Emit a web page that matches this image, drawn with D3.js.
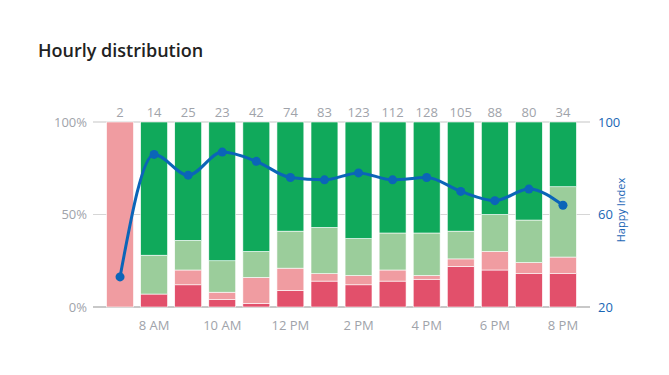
<!DOCTYPE html>
<html>
<head>
<meta charset="utf-8">
<script src="https://cdn.jsdelivr.net/npm/d3@7"></script>
<style>
  body { margin: 0; background: #fff; font-family: "Open Sans", sans-serif; }
  .tick text { font-family: "Open Sans", sans-serif; }
</style>
</head>
<body>
<svg></svg>
<script>
  // hours of the day, one bar each
  var hours = ["7 AM", "8 AM", "9 AM", "10 AM", "11 AM", "12 PM", "1 PM",
               "2 PM", "3 PM", "4 PM", "5 PM", "6 PM", "7 PM", "8 PM"];
  var tickLabels = ["8 AM", "10 AM", "12 PM", "2 PM", "4 PM", "6 PM", "8 PM"];
  var counts = [2, 14, 25, 23, 42, 74, 83, 123, 112, 128, 105, 88, 80, 34];

  // share of answers per hour (%), bottom to top
  var veryUnhappy = [0, 7, 12, 4, 2, 9, 14, 12, 14, 15, 22, 20, 18, 18];
  var unhappy     = [100, 0, 8, 4, 14, 12, 4, 5, 6, 2, 4, 10, 6, 9];
  var happy       = [0, 21, 16, 17, 14, 20, 25, 20, 20, 23, 15, 20, 23, 38];
  var veryHappy   = [0, 72, 64, 75, 70, 59, 57, 63, 60, 60, 59, 50, 53, 35];

  var happyIndex = [33, 86, 77, 87, 83, 76, 75, 78, 75, 76, 70, 66, 71, 64];

  var leftTicks = [0, 50, 100];
  var rightTicks = [20, 60, 100];

  var width = 669, height = 375;
  var plot = { left: 93, right: 590, top: 122, bottom: 307 };
  var grey = "#a0a3aa";

  var svg = d3.select("svg")
    .attr("width", width)
    .attr("height", height);

  svg.append("text")
    .attr("x", 38)
    .attr("y", 57)
    .attr("fill", "#222")
    .attr("font-size", 18)
    .attr("font-weight", 600)
    .text("Hourly distribution");

  var x = d3.scaleBand()
    .domain(hours)
    .range([103, 580])
    .paddingInner(0.21)
    .paddingOuter(0.105);

  var yPct = d3.scaleLinear().domain([0, 100]).range([plot.bottom, plot.top]);
  var yIdx = d3.scaleLinear().domain([20, 100]).range([plot.bottom, plot.top]);

  // grid lines
  svg.append("g")
    .selectAll("line")
    .data(leftTicks)
    .enter()
    .append("line")
    .attr("x1", plot.left)
    .attr("x2", plot.right)
    .attr("y1", d => yPct(d))
    .attr("y2", d => yPct(d))
    .attr("stroke", d => d == 0 ? "#c8c8c8" : (d == 100 ? "#e2e2e2" : "#d6d6d6"))
    .attr("stroke-width", d => d == 50 ? 1 : 2);

  // stacked bars
  var keys = ["veryUnhappy", "unhappy", "happy", "veryHappy"];
  var colors = {
    veryUnhappy: "#e2506b",
    unhappy: "#f09ca1",
    happy: "#9bcd9b",
    veryHappy: "#10a95b"
  };
  var rows = hours.map((h, i) => ({
    hour: h,
    veryUnhappy: veryUnhappy[i],
    unhappy: unhappy[i],
    happy: happy[i],
    veryHappy: veryHappy[i]
  }));
  var stack = d3.stack().keys(keys)(rows);

  svg.append("g")
    .selectAll("g")
    .data(stack)
    .enter()
    .append("g")
    .attr("fill", d => colors[d.key])
    .selectAll("rect")
    .data(d => d.filter(p => p[1] > p[0]))
    .enter()
    .append("rect")
    .attr("x", d => x(d.data.hour))
    .attr("width", x.bandwidth())
    .attr("y", d => yPct(d[1]))
    .attr("height", d => yPct(d[0]) - yPct(d[1]))
    .attr("stroke", "#fff")
    .attr("stroke-width", 0.6);

  // counts above bars
  svg.append("g")
    .selectAll("text")
    .data(counts)
    .enter()
    .append("text")
    .attr("x", (d, i) => x(hours[i]) + x.bandwidth() / 2)
    .attr("y", 117)
    .attr("text-anchor", "middle")
    .attr("fill", grey)
    .attr("font-size", 13)
    .text(d => d);

  // happy index line
  var line = d3.line()
    .x((d, i) => x(hours[i]) + x.bandwidth() / 2)
    .y(d => yIdx(d))
    .curve(d3.curveMonotoneX);

  svg.append("path")
    .datum(happyIndex)
    .attr("fill", "none")
    .attr("stroke", "#0b65b8")
    .attr("stroke-width", 3)
    .attr("d", line);

  svg.append("g")
    .selectAll("circle")
    .data(happyIndex)
    .enter()
    .append("circle")
    .attr("cx", (d, i) => x(hours[i]) + x.bandwidth() / 2)
    .attr("cy", d => yIdx(d))
    .attr("r", 4.5)
    .attr("fill", "#0b65b8");

  // bottom axis
  svg.append("g")
    .attr("transform", "translate(0," + plot.bottom + ")")
    .call(d3.axisBottom(x)
      .tickValues(tickLabels)
      .tickSize(0)
      .tickPadding(14))
    .call(g => g.select(".domain").remove())
    .call(g => g.selectAll("text").attr("fill", grey).attr("font-size", 13));

  // left axis
  svg.append("g")
    .attr("transform", "translate(" + 87 + ",0)")
    .call(d3.axisLeft(yPct)
      .tickValues(leftTicks)
      .tickFormat(d => d + "%")
      .tickSize(0)
      .tickPadding(0))
    .call(g => g.select(".domain").remove())
    .call(g => g.selectAll("text").attr("fill", grey).attr("font-size", 13));

  // right axis
  svg.append("g")
    .attr("transform", "translate(" + 598 + ",0)")
    .call(d3.axisRight(yIdx)
      .tickValues(rightTicks)
      .tickSize(0)
      .tickPadding(0))
    .call(g => g.select(".domain").remove())
    .call(g => g.selectAll("text").attr("fill", "#1a66b5").attr("font-size", 13));

  svg.append("text")
    .attr("transform", "translate(625," + 210 + ") rotate(-90)")
    .attr("text-anchor", "middle")
    .attr("fill", "#1a66b5")
    .attr("font-size", 11)
    .text("Happy Index");
</script>
</body>
</html>
